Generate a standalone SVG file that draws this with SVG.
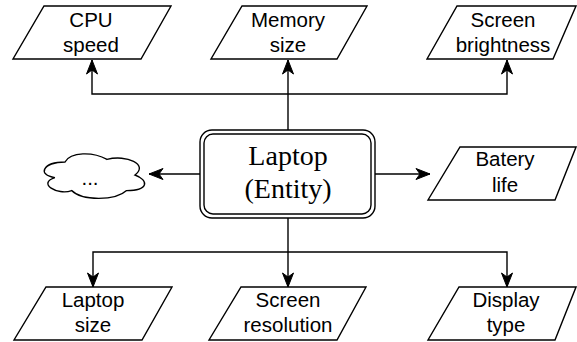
<svg xmlns="http://www.w3.org/2000/svg" width="577" height="342" viewBox="0 0 577 342">
  <style>
    .shape { fill: #ffffff; stroke: #000000; stroke-width: 1.4; }
    .conn { fill: none; stroke: #000000; stroke-width: 1.4; }
    .lbl { font-family: "Liberation Sans", Arial, sans-serif; font-size: 20.5px; fill: #000000; text-anchor: middle; }
    .ent { font-family: "Liberation Serif", "Times New Roman", serif; font-size: 28px; fill: #000000; text-anchor: middle; }
  </style>
  <defs>
    <marker id="arrow" viewBox="-15 -7 16 14" refX="0" refY="0" markerWidth="16" markerHeight="14" markerUnits="userSpaceOnUse" orient="auto">
      <path d="M0,0 L-14,-5.5 L-10,0 L-14,5.5 Z" fill="#000000" stroke="#000000" stroke-width="1"/>
    </marker>
  </defs>
  <rect width="577" height="342" fill="#ffffff"/>

  <g id="connectors">
    <path class="conn" d="M288,130 V94"/>
    <path class="conn" d="M288,94 V60" marker-end="url(#arrow)"/>
    <path class="conn" d="M288,94 H92 V60" marker-end="url(#arrow)"/>
    <path class="conn" d="M288,94 H507 V60" marker-end="url(#arrow)"/>
    <path class="conn" d="M288,218 V252"/>
    <path class="conn" d="M288,252 V287" marker-end="url(#arrow)"/>
    <path class="conn" d="M288,252 H93 V287" marker-end="url(#arrow)"/>
    <path class="conn" d="M288,252 H507 V287" marker-end="url(#arrow)"/>
    <path class="conn" d="M200,174 H149" marker-end="url(#arrow)"/>
    <path class="conn" d="M375,174 H430" marker-end="url(#arrow)"/>
  </g>

  <g id="entity">
    <rect class="shape" x="200" y="130" width="175" height="88" rx="12" ry="12"/>
    <rect class="shape" x="204" y="134" width="167" height="80" rx="9" ry="9"/>
    <text class="ent" x="288" y="165">Laptop</text>
    <text class="ent" x="288" y="198">(Entity)</text>
  </g>

  <g id="cpu-speed">
    <polygon class="shape" points="44,6 171,6 141,59 13,59"/>
    <text class="lbl" x="91" y="27">CPU</text>
    <text class="lbl" x="91" y="52">speed</text>
  </g>

  <g id="memory-size">
    <polygon class="shape" points="242,6 367,6 337,59 211,59"/>
    <text class="lbl" x="288" y="27">Memory</text>
    <text class="lbl" x="288" y="52">size</text>
  </g>

  <g id="screen-brightness">
    <polygon class="shape" points="457,6 576,6 553,59 427,59"/>
    <text class="lbl" x="503" y="27">Screen</text>
    <text class="lbl" x="503" y="52">brightness</text>
  </g>

  <g id="batery-life">
    <polygon class="shape" points="460,147 576,147 555,200 428,200"/>
    <text class="lbl" x="505" y="166">Batery</text>
    <text class="lbl" x="505" y="192">life</text>
  </g>

  <g id="other">
    <path class="shape" d="M65,162 C42.6,162 37,175 54.9,177.6 C37,183.3 57.2,195.8 71.7,190.6 C81.8,201 115.4,201 126.6,190.6 C149,190.6 149,180.2 135,175 C149,164.6 126.6,154.2 107,159.4 C93,151.6 70.6,151.6 65,162 Z"/>
    <text class="lbl" x="90" y="185">...</text>
  </g>

  <g id="laptop-size">
    <polygon class="shape" points="46,287 172,287 142,340 14,340"/>
    <text class="lbl" x="93" y="307">Laptop</text>
    <text class="lbl" x="93" y="332">size</text>
  </g>

  <g id="screen-resolution">
    <polygon class="shape" points="241,287 366,287 337,340 209,340"/>
    <text class="lbl" x="288" y="307">Screen</text>
    <text class="lbl" x="288" y="332">resolution</text>
  </g>

  <g id="display-type">
    <polygon class="shape" points="459,287 576,287 555,340 428,340"/>
    <text class="lbl" x="506" y="307">Display</text>
    <text class="lbl" x="506" y="332">type</text>
  </g>
</svg>
